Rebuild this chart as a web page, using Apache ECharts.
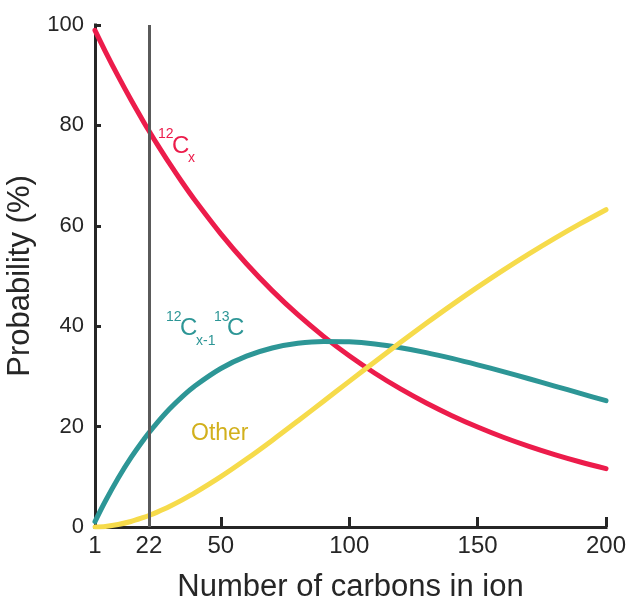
<!DOCTYPE html>
<html>
<head>
<meta charset="utf-8">
<script src="https://cdn.jsdelivr.net/npm/echarts@6/dist/echarts.min.js"></script>
<style>html,body{margin:0;padding:0;background:#fff}#c{width:630px;height:603px}</style>
</head>
<body>
<div id="c"></div>
<script>
// Number of carbons (x) at which values were read
const carbons = [1, 5, 10, 15, 20, 22, 25, 30, 35, 40, 50, 60, 70, 80, 90, 100, 110, 120, 130, 140, 150, 160, 170, 180, 190, 200];
// Probability (%) of all-12C ion
const prob12C = [98.93, 94.76, 89.80, 85.10, 80.64, 78.93, 76.42, 72.42, 68.62, 65.03, 58.40, 52.44, 47.09, 42.29, 37.98, 34.10, 30.63, 27.50, 24.70, 22.18, 19.92, 17.88, 16.06, 14.42, 12.95, 11.63];
// Probability (%) of one 13C
const prob13C1 = [1.07, 5.12, 9.71, 13.81, 17.44, 18.78, 20.66, 23.50, 25.98, 28.14, 31.58, 34.03, 35.66, 36.59, 36.97, 36.89, 36.44, 35.69, 34.73, 33.58, 32.31, 30.95, 29.53, 28.08, 26.62, 25.16];
// Probability (%) of other compositions
const probOther = [0.00, 0.12, 0.49, 1.09, 1.92, 2.29, 2.92, 4.08, 5.40, 6.83, 10.02, 13.53, 17.25, 21.12, 25.05, 29.01, 32.93, 36.81, 40.57, 44.24, 47.77, 51.17, 54.41, 57.50, 60.43, 63.21];
const xTicks = [1, 22, 50, 100, 150, 200];
const markerX = 22;

const FONT = '"Liberation Sans", Arial, Helvetica, sans-serif';
const AX = '#262626';
const RED = '#EC1C4B', TEAL = '#2D9696', YEL = '#F6DB4B', GOLD = '#D2B01C';

const pairs = ys => carbons.map((x, i) => [x, ys[i]]);
const line = (name, ys, color, z) => ({
  name, type: 'line', data: pairs(ys), smooth: 0.3, showSymbol: false, symbol: 'none', z,
  lineStyle: { color, width: 5, cap: 'round', join: 'round' }, silent: true
});

const chart = echarts.init(document.getElementById('c'), null, { renderer: 'canvas' });
const txt = (text, x, y, size, color) => ({
  type: 'text', x, y, silent: true,
  style: { text, fill: color, font: size + 'px ' + FONT, verticalAlign: 'middle', align: 'left' }
});

chart.setOption({
  animation: false,
  grid: { left: 95, right: 24, top: 25, bottom: 76, containLabel: false, outerBoundsMode: 'none' },
  xAxis: {
    type: 'value', min: 1, max: 200,
    name: 'Number of carbons in ion', nameLocation: 'middle', nameGap: 45,
    nameTextStyle: { fontFamily: FONT, fontSize: 31, color: AX },
    axisLine: { show: true, onZero: false, lineStyle: { color: AX, width: 3, cap: 'square' } },
    axisTick: { show: true, inside: true, length: 10, lineStyle: { color: AX, width: 3 }, customValues: xTicks },
    axisLabel: { color: AX, fontFamily: FONT, fontSize: 24, margin: 7, customValues: xTicks },
    splitLine: { show: false }
  },
  yAxis: {
    type: 'value', min: 0, max: 100, interval: 20,
    name: 'Probability (%)', nameLocation: 'middle', nameGap: 56,
    nameTextStyle: { fontFamily: FONT, fontSize: 31, color: AX },
    axisLine: { show: true, lineStyle: { color: AX, width: 3, cap: 'square' } },
    axisTick: { show: true, inside: true, length: 6, lineStyle: { color: AX, width: 3 } },
    axisLabel: { color: AX, fontFamily: FONT, fontSize: 22, margin: 11 },
    splitLine: { show: false }
  },
  series: [
    {
      type: 'line', data: [], z: 1, silent: true,
      markLine: {
        silent: true, symbol: ['none', 'none'], label: { show: false },
        lineStyle: { color: '#5a5a5a', width: 3, type: 'solid' },
        data: [{ xAxis: markerX }]
      }
    },
    line('12Cx', prob12C, RED, 2),
    line('12Cx-1 13C', prob13C1, TEAL, 3),
    line('Other', probOther, YEL, 4)
  ],
  graphic: [
    txt('12', 158, 134, 14, RED),
    txt('C', 172, 146, 24, RED),
    txt('x', 188, 158, 14, RED),
    txt('12', 166, 317, 14, TEAL),
    txt('C', 180, 328, 24, TEAL),
    txt('x-1', 196, 341, 14, TEAL),
    txt('13', 214, 317, 14, TEAL),
    txt('C', 227, 328, 24, TEAL),
    txt('Other', 191, 434, 23, GOLD)
  ]
});
</script>
</body>
</html>
